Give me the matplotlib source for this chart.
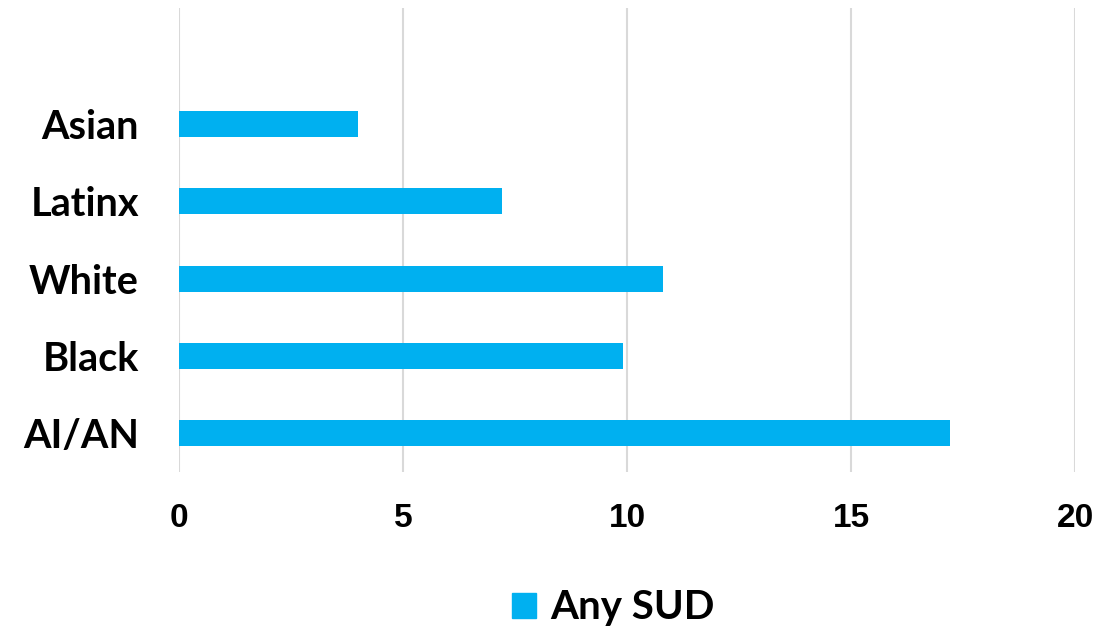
import matplotlib
matplotlib.use("Agg")
import matplotlib.pyplot as plt
from matplotlib.patches import Patch

# share of each group with any substance use disorder (%)
groups = ["AI/AN", "Black", "White", "Latinx", "Asian"]
any_sud = [17.2, 9.9, 10.8, 7.2, 4.0]
x_ticks = [0, 5, 10, 15, 20]

bar_color = "#00B0F0"
grid_color = "#D9D9D9"

fig = plt.figure(figsize=(10.99, 6.31), dpi=100)
ax = fig.add_axes([179.3 / 1099, 1 - 472 / 631, (1075 - 179.3) / 1099, 464 / 631])

ax.barh(range(len(groups)), any_sud, height=0.34, color=bar_color, zorder=3)

ax.set_xlim(0, 20)
ax.set_ylim(-0.5, 5.5)
ax.set_xticks(x_ticks)
ax.set_xticklabels([str(t) for t in x_ticks], fontsize=24, fontweight="bold",
                   family="Liberation Sans")
ax.set_yticks(range(len(groups)))
ax.set_yticklabels(groups, fontsize=28.5, fontweight="bold", family="Lato")
ax.tick_params(axis="both", length=0)
ax.tick_params(axis="x", pad=22)
ax.tick_params(axis="y", pad=29)

ax.xaxis.grid(True, color=grid_color, linewidth=1.5, zorder=0)
for s in ax.spines.values():
    s.set_visible(False)

fig.legend(handles=[Patch(color=bar_color, label="Any SUD")],
           loc="center", bbox_to_anchor=(0.558, 1 - 608 / 631), frameon=False,
           handlelength=0.6, handleheight=0.6, handletextpad=0.35,
           prop={"family": "Lato", "weight": "bold", "size": 29})

fig.savefig("out.png", dpi=100)
